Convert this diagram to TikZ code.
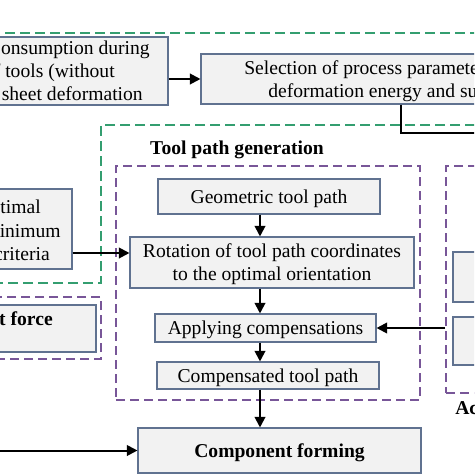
\documentclass[tikz,border=0pt]{standalone}
\usepackage{fontspec}
\setmainfont{Liberation Serif}
\usepackage{xcolor}
\usetikzlibrary{positioning, arrows.meta}
\definecolor{boxfill}{RGB}{242,242,242}
\definecolor{boxline}{RGB}{96,114,144}
\definecolor{grnline}{RGB}{52,158,112}
\definecolor{purline}{RGB}{120,86,152}
\newcommand{\boxfont}{\fontsize{14.7pt}{17.25pt}\selectfont}

\begin{document}
\begin{tikzpicture}[x=0.75pt, y=-0.75pt,
    box/.style = {draw=boxline, fill=boxfill, line width=0.8pt, inner sep=0pt, text depth=-1.5pt, align=center, font=\boxfont},
    txt/.style = {inner sep=0pt, font=\boxfont},
    frame/.style = {draw=purline, line width=1.4pt, dash pattern=on 7pt off 3.5pt, inner sep=0pt},
    grn/.style = {draw=grnline, line width=1.4pt, dash pattern=on 7.5pt off 3.75pt},
    arr/.style = {line width=1.5pt, -{Triangle[length=8pt, width=8pt]}},
    conn/.style = {line width=1.5pt}]
                \useasboundingbox (0,0) rectangle (474,474);
                \clip (0,0) rectangle (474,474);

                % Frames
                \draw[grn] (-10,33) -- (490,33);
                \draw[grn] (490,125) -- (101,125) -- (101,283) -- (-10,283);
                \node[frame, minimum width=228pt, minimum height=175.5pt] (tpg) at (268,283) {};
                \node[frame, minimum width=115.5pt, minimum height=170.25pt] (act) at (523,279.5) {};
                \node[frame, minimum width=120.75pt, minimum height=46.5pt] (frf) at (20.5,328) {};

                % Nodes
                \node[box, minimum width=171pt, minimum height=51pt] (en) at (54,71) {};
                \node[txt, anchor=base east] (en1) at (150,55) {onsumption during};
                \node[txt, anchor=base east] (en2) at (115,78) {f tools (without};
                \node[txt, anchor=base east] (en3) at (143,101) {sheet deformation};
                \node[box, minimum width=299.25pt, minimum height=37.5pt] (sel) at (400.5,79) {};
                \node[txt, anchor=base west] (sel1) at (244,75) {Selection of process paramete};
                \node[txt, anchor=base west] (sel2) at (268,98) {deformation energy and su};
                \node[txt, anchor=base, font=\boxfont\bfseries] (ttl) at (237,154) {Tool path generation};
                \node[box, minimum width=99pt, minimum height=60pt] (opt) at (6,229) {};
                \node[txt, anchor=base east] (opt1) at (41,213) {timal};
                \node[txt, anchor=base east] (opt2) at (61,237) {inimum};
                \node[txt, anchor=base east] (opt3) at (50,260) {criteria};
                \node[box, minimum width=117pt, minimum height=35.25pt] (frc) at (18,328.5) {};
                \node[txt, anchor=base east, font=\boxfont\bfseries] (frc1) at (53,325) {t force};
                \node[box, minimum width=166.5pt, minimum height=26.25pt] (geo) at (269,196.5) {Geometric tool path};
                \node[box, minimum width=213pt, minimum height=38.25pt] (rot) at (272,262.5) {Rotation of tool path coordinates\\to the optimal orientation};
                \node[box, minimum width=165.75pt, minimum height=21pt] (app) at (265.5,328) {Applying compensations};
                \node[box, minimum width=166.5pt, minimum height=20.25pt] (cmp) at (268,375.5) {Compensated tool path};
                \node[box, minimum width=212.25pt, minimum height=33.75pt, font=\boxfont\bfseries] (form) at (279.5,450.5) {Component forming};
                \node[box, minimum width=80.25pt, minimum height=37.5pt] (b1) at (506.5,277) {};
                \node[box, minimum width=80.25pt, minimum height=36pt] (b2) at (506.5,341) {};
                \node[txt, anchor=base west, font=\boxfont\bfseries] (act1) at (455,414) {Ac};

                % Lines
                \coordinate (ax) at (260,0);
                \coordinate (sx) at (401,0);
                \coordinate (so) at (490,133);
                \coordinate (oy) at (0,253);
                \coordinate (fin) at (-10,450.5);
                \draw[arr] (en.east |- sel.west) -- (sel.west);
                \draw[conn] (sel.south -| sx) |- (so);
                \draw[arr] (opt.east |- oy) -- (rot.west |- oy);
                \draw[arr] (geo.south -| ax) -- (rot.north -| ax);
                \draw[arr] (rot.south -| ax) -- (app.north -| ax);
                \draw[arr] (app.south -| ax) -- (cmp.north -| ax);
                \draw[arr] (cmp.south -| ax) -- (form.north -| ax);
                \draw[arr] (act.west |- app.east) -- (app.east);
                \draw[arr] (fin) -- (form.west);
            \end{tikzpicture}
\end{document}
